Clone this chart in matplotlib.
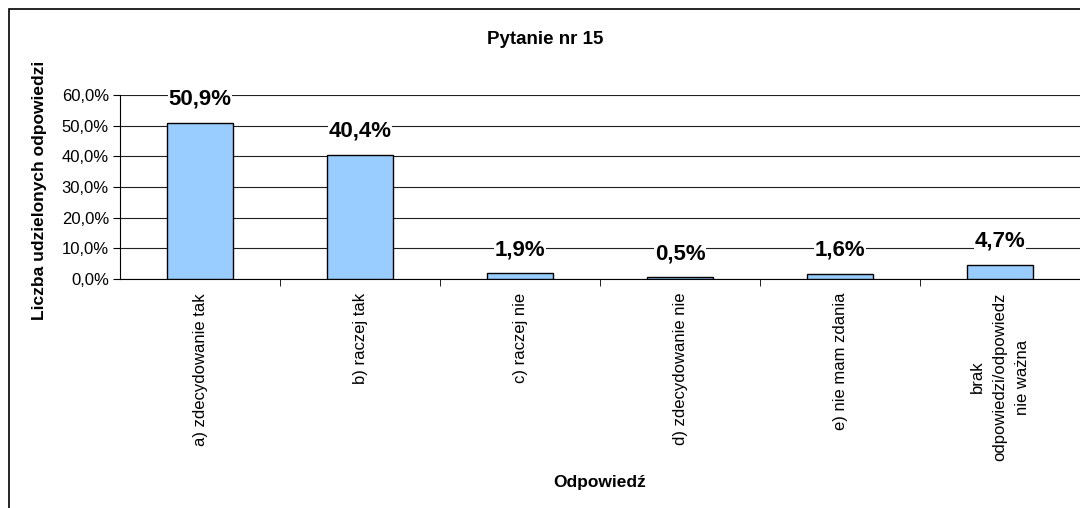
import matplotlib.pyplot as plt
from matplotlib.patches import Rectangle
from matplotlib.ticker import MultipleLocator, FuncFormatter

plt.rcParams['font.family'] = ['Liberation Sans', 'DejaVu Sans']

# answers to question 15 (share of responses, %)
categories = [
    "a) zdecydowanie tak",
    "b) raczej tak",
    "c) raczej nie",
    "d) zdecydowanie nie",
    "e) nie mam zdania",
    "brak\nodpowiedzi/odpowiedz\nnie ważna",
]
values = [50.9, 40.4, 1.9, 0.5, 1.6, 4.7]
value_labels = ["50,9%", "40,4%", "1,9%", "0,5%", "1,6%", "4,7%"]

fig = plt.figure(figsize=(10.8, 5.08), dpi=100)
ax = fig.add_axes([120 / 1080, 1 - 279 / 508, 960 / 1080, (279 - 95) / 508])

# chart border (runs off the right and bottom edge)
fig.patches.append(Rectangle((9 / 1080, -0.1), 1.2, 1.1 - 9 / 508,
                             transform=fig.transFigure, fill=False,
                             edgecolor='black', linewidth=1.2))

x = list(range(len(values)))
ax.bar(x, values, width=0.41, color='#99CCFF', edgecolor='black',
       linewidth=1.0, zorder=3)

for xi, v, lab in zip(x, values, value_labels):
    ax.annotate(lab, (xi, v), xytext=(0, 17), textcoords='offset points',
                ha='center', va='center', fontsize=16, fontweight='bold',
                bbox=dict(facecolor='white', edgecolor='none', pad=0.5),
                zorder=4)

ax.set_xlim(-0.5, len(values) - 0.5)
ax.set_ylim(0, 60)
ax.yaxis.set_major_locator(MultipleLocator(10))
ax.yaxis.set_major_formatter(FuncFormatter(lambda v, p: ("%.1f%%" % v).replace('.', ',')))
ax.grid(axis='y', color='#202020', linewidth=0.8, zorder=1)

ax.set_xticks(x)
ax.set_xticklabels(categories, rotation=90, va='top', ha='center',
                   multialignment='center', fontsize=12, linespacing=1.6)
ax.tick_params(axis='x', length=0, pad=10)
ax.set_xticks([i + 0.5 for i in range(len(values) - 1)], minor=True)
ax.tick_params(axis='x', which='minor', length=5, direction='out')
ax.tick_params(axis='y', length=5, direction='out', labelsize=12, pad=3)

for side in ['top', 'right']:
    ax.spines[side].set_visible(False)
ax.spines['left'].set_color('black')
ax.spines['bottom'].set_color('black')

fig.text(0.505, 1 - 39 / 508, "Pytanie nr 15", ha='center', va='center',
         fontsize=13.5, fontweight='bold')
fig.text(40 / 1080, 0.626, "Liczba udzielonych odpowiedzi", rotation=90,
         ha='center', va='center', fontsize=12.5, fontweight='bold')
fig.text(600 / 1080, 1 - 482 / 508, "Odpowiedź", ha='center', va='center',
         fontsize=12.5, fontweight='bold')

fig.savefig('out.png', dpi=100)
